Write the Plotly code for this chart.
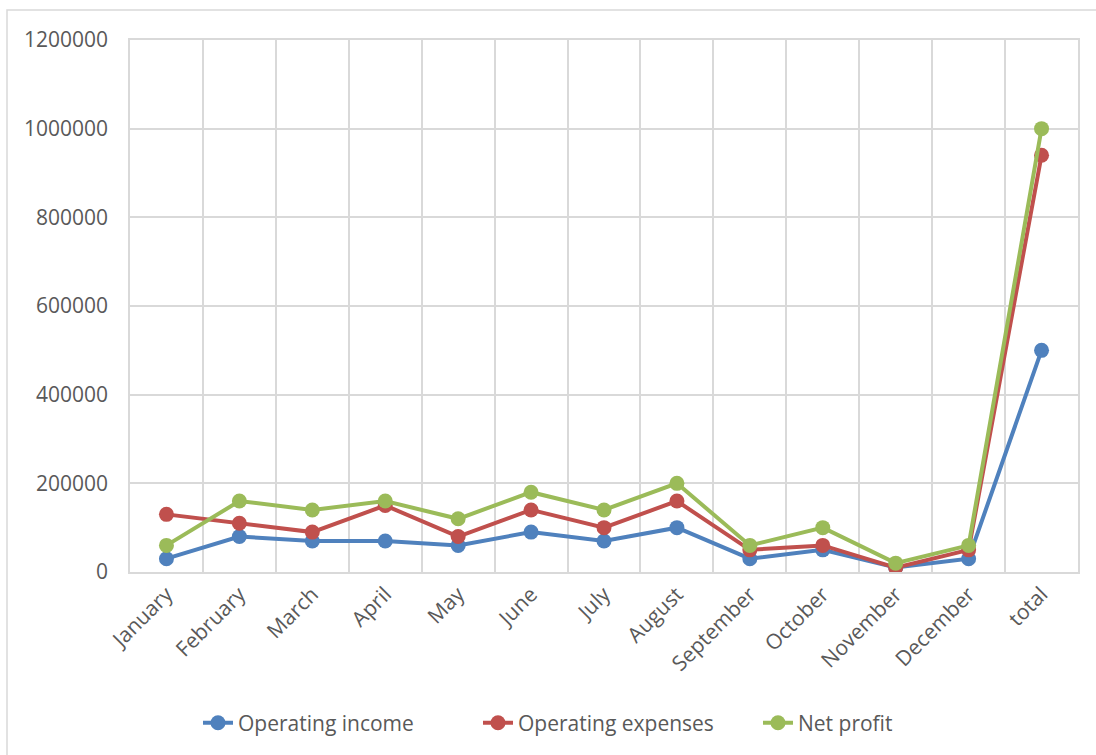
import plotly.graph_objects as go

months = ["January", "February", "March", "April", "May", "June", "July",
          "August", "September", "October", "November", "December", "total"]
operating_income = [30000, 80000, 70000, 70000, 60000, 90000, 70000,
                    100000, 30000, 50000, 10000, 30000, 500000]
operating_expenses = [130000, 110000, 90000, 150000, 80000, 140000, 100000,
                      160000, 50000, 60000, 10000, 50000, 940000]
net_profit = [60000, 160000, 140000, 160000, 120000, 180000, 140000,
              200000, 60000, 100000, 20000, 60000, 1000000]

series = [
    ("Operating income", operating_income, "#4F81BD"),
    ("Operating expenses", operating_expenses, "#C0504D"),
    ("Net profit", net_profit, "#9BBB59"),
]

FONT = "Open Sans"
TXT = "#595959"
FS = 21

fig = go.Figure()
for name, vals, col in series:
    fig.add_trace(go.Scatter(
        x=months, y=vals, name=name, mode="lines+markers",
        line=dict(color=col, width=4),
        marker=dict(color=col, size=15),
    ))

fig.update_layout(
    width=1096, height=755,
    margin=dict(l=130, r=18, t=40, b=183),
    paper_bgcolor="white", plot_bgcolor="white",
    font=dict(family=FONT, size=FS, color=TXT),
    showlegend=True,
    legend=dict(orientation="h", x=(198 - 130) / 948, xanchor="left",
                y=-0.284, yanchor="middle",
                font=dict(family=FONT, size=FS, color=TXT),
                entrywidth=235, entrywidthmode="pixels",
                tracegroupgap=0),
    xaxis=dict(
        type="category", tickson="boundaries", tickangle=-45,
        showgrid=True, gridcolor="#D9D9D9", gridwidth=1.5,
        showline=True, linecolor="#D9D9D9", linewidth=1.5, mirror=True,
        ticks="", tickfont=dict(family=FONT, size=FS, color=TXT),
        range=[-0.5, 12.5],
    ),
    yaxis=dict(
        range=[0, 1200000], dtick=200000, tickformat="d",
        showgrid=True, gridcolor="#D9D9D9", gridwidth=1.5,
        showline=True, linecolor="#D9D9D9", linewidth=1.5, mirror=True,
        zeroline=False, ticks="", ticklen=0, ticklabelstandoff=16,
        tickfont=dict(family=FONT, size=FS, color=TXT),
    ),
    shapes=[dict(
        type="rect", xref="paper", yref="paper",
        x0=(7 - 130) / 948, x1=(1110 - 130) / 948,
        y0=(572 - 770) / 532, y1=1 + (40 - 10) / 532,
        line=dict(color="#D9D9D9", width=1.5), fillcolor="rgba(0,0,0,0)",
        layer="below",
    )],
)

fig.write_html("out.html")
